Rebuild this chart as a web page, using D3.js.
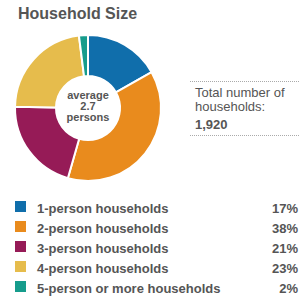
<!DOCTYPE html>
<html>
<head>
<meta charset="utf-8">
<script src="https://cdn.jsdelivr.net/npm/d3@7"></script>
<style>
  body { margin: 0; background: #fff; }
  text { font-family: "Liberation Sans", Arial, sans-serif; fill: #555; }
</style>
</head>
<body>
<div id="chart"></div>
<script>
// data
const categories = ['1-person households', '2-person households', '3-person households',
  '4-person households', '5-person or more households'];
const shares = [17, 38, 21, 23, 2];
const colors = ['#106eab', '#e98b1d', '#961b57', '#e6bc4c', '#169c8c'];
const centerLines = ['average', '2.7', 'persons'];
const totalLines = ['Total number of', 'households:'];
const totalValue = '1,920';

const width = 300;
const height = 300;

const svg = d3.select('#chart').append('svg')
  .attr('width', width)
  .attr('height', height);

// title
svg.append('text')
  .attr('x', 18)
  .attr('y', 19)
  .style('font-size', '16px')
  .style('font-weight', 'bold')
  .text('Household Size');

// donut
const cx = 88;
const cy = 108;
const pie = d3.pie().sort(null).value(d => d);
const arc = d3.arc().innerRadius(32).outerRadius(73);

const g = svg.append('g').attr('transform', `translate(${cx}, ${cy})`);
g.selectAll('path')
  .data(pie(shares))
  .join('path')
  .attr('d', arc)
  .style('fill', (d, i) => colors[i])
  .style('stroke', '#fff')
  .style('stroke-width', '2px');

g.append('g')
  .selectAll('text')
  .data(centerLines)
  .join('text')
  .attr('y', (d, i) => (i - 1) * 11 + 2)
  .attr('text-anchor', 'middle')
  .style('font-size', '11px')
  .style('font-weight', 'bold')
  .text(d => d);

// total box
const box = svg.append('g');
[81, 135].forEach(y => {
  box.append('line')
    .attr('x1', 190).attr('x2', 300)
    .attr('y1', y + 0.5).attr('y2', y + 0.5)
    .style('stroke', '#aaa')
    .style('stroke-width', 1)
    .style('stroke-dasharray', '1,1');
});
box.selectAll('.tl')
  .data(totalLines)
  .join('text')
  .attr('class', 'tl')
  .attr('x', 195)
  .attr('y', (d, i) => 97 + i * 14)
  .style('font-size', '13px')
  .text(d => d);
box.append('text')
  .attr('x', 195)
  .attr('y', 129)
  .style('font-size', '13px')
  .style('font-weight', 'bold')
  .text(totalValue);

// legend
const y = d3.scaleBand().domain(categories).range([200, 300]);
const rows = svg.append('g').selectAll('g')
  .data(categories)
  .join('g')
  .attr('transform', d => `translate(0, ${y(d)})`);
rows.append('rect')
  .attr('x', 15).attr('y', 1)
  .attr('width', 11).attr('height', 11)
  .style('fill', (d, i) => colors[i]);
rows.append('text')
  .attr('x', 37).attr('y', 13)
  .style('font-size', '13px')
  .style('font-weight', 'bold')
  .text(d => d);
rows.append('text')
  .attr('x', 298).attr('y', 13)
  .attr('text-anchor', 'end')
  .style('font-size', '13px')
  .style('font-weight', 'bold')
  .text((d, i) => `${shares[i]}%`);
</script>
</body>
</html>
